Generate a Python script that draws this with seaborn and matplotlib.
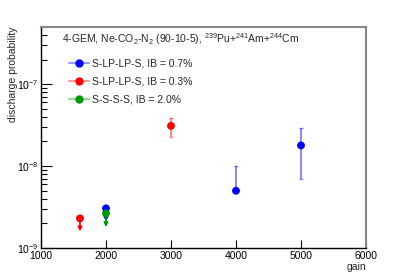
import numpy as np
import pandas as pd
import matplotlib
matplotlib.use("Agg")
import matplotlib.pyplot as plt
import seaborn as sns
from matplotlib.lines import Line2D
from matplotlib.colors import to_rgba
from matplotlib.ticker import LogLocator, FixedLocator, NullLocator

# series labels and colours
series = ["S-LP-LP-S, IB = 0.7%", "S-LP-LP-S, IB = 0.3%", "S-S-S-S, IB = 2.0%"]
colors = ["#0000ff", "#ff0000", "#009900"]

# measured points
pt_series = [0, 0, 0, 1, 1, 2]
pt_gain = [2000, 4000, 5000, 1600, 3000, 2000]
pt_prob = [3.05e-9, 5.0e-9, 1.79e-8, 2.3e-9, 3.1e-8, 2.65e-9]
pt_err_lo = [0, 0, 1.1e-8, 0, 0.8e-8, 0]
pt_err_hi = [0, 4.9e-9, 1.1e-8, 0, 0.8e-8, 0]

# upper-limit arrows (from point down to tip)
lim_series = [0, 1, 2]
lim_gain = [2000, 1600, 2000]
lim_from = [3.05e-9, 2.3e-9, 2.65e-9]
lim_to = [2.1e-9, 1.6e-9, 1.8e-9]

title = r"4-GEM, Ne-CO$_2$-N$_2$ (90-10-5), $^{239}$Pu+$^{241}$Am+$^{244}$Cm"
x_ticks = [1000, 2000, 3000, 4000, 5000, 6000]

sns.set_style("white")
plt.rcParams["font.family"] = ["Liberation Sans", "DejaVu Sans"]
plt.rcParams["mathtext.fontset"] = "custom"
plt.rcParams["mathtext.rm"] = "Liberation Sans"
plt.rcParams["mathtext.it"] = "Liberation Sans"
plt.rcParams["mathtext.default"] = "regular"

df = pd.DataFrame({
    "gain": pt_gain,
    "prob": pt_prob,
    "series": [series[i] for i in pt_series],
})

fig = plt.figure(figsize=(4.07, 2.76), dpi=100)
ax = fig.add_axes([0.1007, 0.1014, 0.7986, 0.8008])

# error bars
for i in range(len(pt_gain)):
    c = colors[pt_series[i]]
    if pt_err_lo[i] or pt_err_hi[i]:
        ax.errorbar(pt_gain[i], pt_prob[i],
                    yerr=[[pt_err_lo[i]], [pt_err_hi[i]]],
                    fmt="none", ecolor=c, alpha=0.45, elinewidth=1.5,
                    capsize=1.2, capthick=1.0)

# upper-limit arrows
for i in range(len(lim_gain)):
    c = colors[lim_series[i]]
    ax.annotate("", xy=(lim_gain[i], lim_to[i]), xytext=(lim_gain[i], lim_from[i]),
                arrowprops=dict(arrowstyle="-|>", color=c, lw=1.2,
                                mutation_scale=6, shrinkA=0, shrinkB=0))

sns.scatterplot(data=df, x="gain", y="prob", hue="series", hue_order=series,
                palette=colors, s=32, edgecolor="none", legend=False, ax=ax,
                zorder=5)

ax.set_yscale("log")
ax.set_xlim(1000, 6000)
ax.set_ylim(1e-9, 5e-7)

ax.xaxis.set_major_locator(FixedLocator(x_ticks))
ax.xaxis.set_minor_locator(NullLocator())
ax.yaxis.set_major_locator(LogLocator(base=10))
ax.yaxis.set_minor_locator(LogLocator(base=10, subs=np.arange(2, 10)))
ax.tick_params(axis="both", which="both", direction="in", labelsize=7.5,
               colors="black", top=False, right=False, left=True, bottom=True)
ax.tick_params(axis="x", which="major", length=6, width=0.8, pad=2)
ax.tick_params(axis="y", which="major", length=8, width=0.8, pad=2)
ax.tick_params(axis="y", which="minor", length=4.5, width=0.8)
ax.set_xticklabels([str(t) for t in x_ticks])

for side in ["left", "bottom"]:
    ax.spines[side].set_color("black")
    ax.spines[side].set_linewidth(1.0)
for side in ["top", "right"]:
    ax.spines[side].set_color("#888888")
    ax.spines[side].set_linewidth(1.5)

ax.set_xlabel("gain", fontsize=7.5, loc="right", labelpad=1)
ax.set_ylabel("discharge probability", fontsize=7.5, loc="top")
ax.yaxis.set_label_coords(-0.07, 1.0)

ax.text(0.066, 0.945, title, transform=ax.transAxes, fontsize=7.5,
        va="center", ha="left")

handles = [Line2D([0], [0], color=to_rgba(colors[i], 0.4), lw=1.5, marker="o",
                  markersize=5, markerfacecolor=colors[i],
                  markeredgecolor=colors[i]) for i in range(len(series))]
leg = ax.legend(handles, series, loc="upper left", bbox_to_anchor=(0.07, 0.88),
                frameon=False, fontsize=7.5, handlelength=1.9, handletextpad=0.35,
                labelspacing=0.75, borderpad=0.0)

fig.savefig("out.png", dpi=100)
